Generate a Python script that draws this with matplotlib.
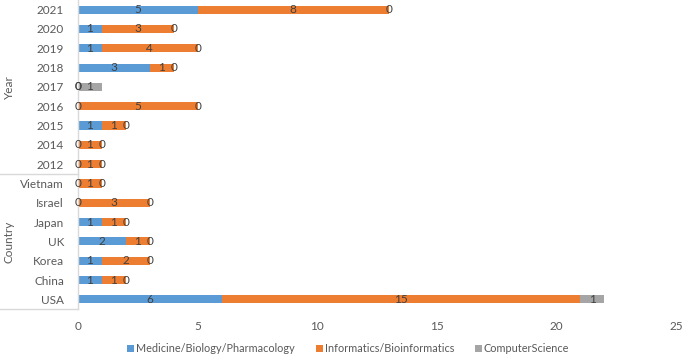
import matplotlib
matplotlib.use("Agg")
import matplotlib.pyplot as plt
from matplotlib.patches import Rectangle
from matplotlib.lines import Line2D
import numpy as np

plt.rcParams.update({"font.family": ["Lato", "DejaVu Sans"], "font.size": 8.5})

# ── Data (top → bottom as in the chart) ──────────────────────────────────────
categories = ["2021", "2020", "2019", "2018", "2017", "2016", "2015", "2014", "2012",
              "Vietnam", "Israel", "Japan", "UK", "Korea", "China", "USA"]
groups = ["Year", "Country"]
group_sizes = [9, 7]
medicine    = [5, 1, 1, 3, 0, 0, 1, 0, 0, 0, 0, 1, 2, 1, 1, 6]
informatics = [8, 3, 4, 1, 0, 5, 1, 1, 1, 1, 3, 1, 1, 2, 1, 15]
compsci     = [0, 0, 0, 0, 1, 0, 0, 0, 0, 0, 0, 0, 0, 0, 0, 1]
series_names = ["Medicine/Biology/Pharmacology", "Informatics/Bioinformatics", "ComputerScience"]
colors = ["#5B9BD5", "#ED7D31", "#A5A5A5"]
TXT = "#595959"
GRID = "#D9D9D9"

W, H = 685, 354
fig = plt.figure(figsize=(W / 100, H / 100), dpi=100, facecolor="white")
ax = fig.add_axes([78 / W, 1 - 309 / H, 598 / W, 309 / H])

n = len(categories)
y = np.arange(n)[::-1]   # first category on top
left = np.zeros(n)
for vals, c in zip([medicine, informatics, compsci], colors):
    vals = np.array(vals, dtype=float)
    ax.barh(y, vals, left=left, height=0.42, color=c, zorder=2)
    for yi, l, v in zip(y, left, vals):
        ax.text(l + v / 2, yi, f"{int(v)}", ha="center", va="center",
                fontsize=8.5, color="#404040", zorder=3)
    left += vals

ax.set_xlim(0, 25)
ax.set_ylim(-0.5, n - 0.5)
ax.set_xticks([0, 5, 10, 15, 20, 25])
ax.set_yticks(y)
ax.set_yticklabels(categories)
ax.tick_params(axis="both", length=0, colors=TXT, labelsize=8.5)
ax.tick_params(axis="x", pad=9)
ax.tick_params(axis="y", pad=10)
for s in ["top", "right", "bottom"]:
    ax.spines[s].set_visible(False)
ax.spines["left"].set_color(GRID)
ax.spines["left"].set_linewidth(1.0)

# ── Multi-level category axis: group separators and labels ────────────────────
x1 = 78 / W
def fig_y(yv):
    return ax.transData.transform((0, yv))[1] / fig.bbox.height

start = 0
for g, size in zip(groups, group_sizes):
    y_top = n - 0.5 - start
    y_bot = n - 0.5 - start - size
    fig.add_artist(Line2D([0, x1], [fig_y(y_bot)] * 2, color=GRID, lw=1.0))
    fig.text(9 / W, (fig_y(y_top) + fig_y(y_bot)) / 2, g, rotation=90,
             ha="center", va="center", fontsize=8.5, color=TXT)
    start += size

# ── Legend (Excel style, bottom centre) ──────────────────────────────────────
leg_x = [127, 316, 475]
leg_y = 348
for lx, c, s in zip(leg_x, colors, series_names):
    fig.add_artist(Rectangle((lx / W, 1 - (leg_y + 3.5) / H), 7 / W, 7 / H,
                             transform=fig.transFigure, facecolor=c, edgecolor="none"))
    fig.text((lx + 9) / W, 1 - leg_y / H, s, ha="left", va="center",
             fontsize=7.8, color=TXT)

fig.savefig("out.png", dpi=100, facecolor="white")
